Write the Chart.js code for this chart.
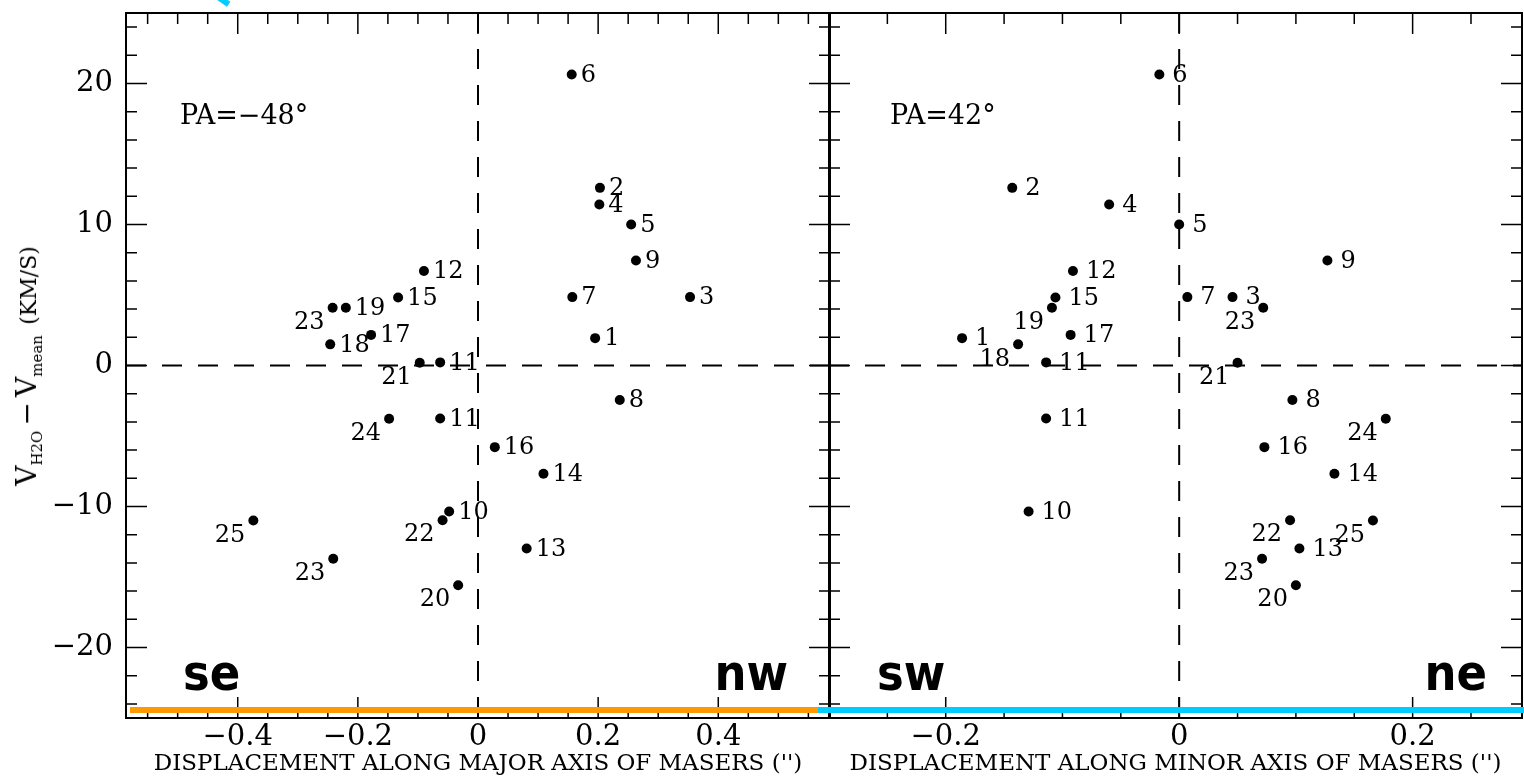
<!DOCTYPE html>
<html>
<head>
<meta charset="utf-8">
<script src="https://cdn.jsdelivr.net/npm/chart.js@4.4.1/dist/chart.umd.min.js"></script>
<style>
  body { margin: 0; background: #fff; }
  #wrap { position: relative; width: 1524px; height: 781px; overflow: hidden; }
  canvas { position: absolute; top: 0; }
  #left { left: 0; }
  #right { left: 820px; }
  .bar { position: absolute; top: 707px; height: 6px; }
  #cyanTick { position: absolute; left: 215px; top: -3px; width: 15px; height: 6px; background: #00ccff; transform: rotate(35deg); }
  #ytitle {
    position: absolute; left: 29px; top: 366px;
    transform: translate(-50%, -50%) rotate(-90deg);
    white-space: nowrap; font-family: "DejaVu Serif", serif; color: #000; line-height: 1;
  }
  #ytitle .big { font-size: 28px; }
  #ytitle sub { font-size: 15px; vertical-align: -6px; }
  #ytitle .unit { font-size: 22px; }
</style>
</head>
<body>
<div id="wrap">
  <canvas id="left" width="840" height="781"></canvas>
  <canvas id="right" width="704" height="781"></canvas>
  <div class="bar" style="left:130px;width:688px;background:#ff9900"></div>
  <div class="bar" style="left:818px;width:706px;background:#00ccff"></div>
  <div id="cyanTick"></div>
  <div id="ytitle"><span class="big">V</span><sub>H2O</sub> <span class="big">&minus;</span> <span class="big">V</span><sub>mean</sub>&nbsp;&nbsp;<span class="unit">(KM/S)</span></div>
</div>
<script>
// maser spots (11 and 23 appear twice)
const maserIds = ['1','2','3','4','5','6','7','8','9','10','11','11','12','13','14','15','16','17','18','19','20','21','22','23','23','24','25'];
const velocity = [1.94, 12.6, 4.85, 11.42, 10.0, 20.64, 4.85, -2.45, 7.45, -10.35, 0.22, -3.76, 6.7, -12.98, -7.68, 4.82, -5.79, 2.17, 1.5, 4.09, -15.58, 0.2, -10.97, 4.09, -13.71, -3.78, -10.99];
const majorOffset = [0.195, 0.203, 0.353, 0.202, 0.255, 0.156, 0.157, 0.236, 0.263, -0.048, -0.063, -0.063, -0.090, 0.081, 0.109, -0.133, 0.028, -0.178, -0.246, -0.220, -0.033, -0.097, -0.059, -0.242, -0.241, -0.148, -0.374];
const minorOffset = [-0.186, -0.143, 0.0457, -0.060, 0.0, -0.017, 0.007, 0.097, 0.127, -0.129, -0.114, -0.114, -0.091, 0.103, 0.133, -0.106, 0.073, -0.093, -0.138, -0.109, 0.100, 0.050, 0.095, 0.072, 0.071, 0.177, 0.166];

const majorTicks = [-0.4, -0.2, 0, 0.2, 0.4];
const minorTicks = [-0.2, 0, 0.2];
const velocityTicks = [20, 10, 0, -10, -20];

// where each number sits: 'r' right of the dot, 'bl' below-left
const majorSides = ['r','r','r','r','r','r','r','r','r','r','r','r','r','r','r','r','r','r','r','r','bl','bl','bl','bl','bl','bl','bl'];
const minorSides = ['r','r','r','r','r','r','r','r','r','r','r','r','r','r','r','r','r','r','bl','bl','bl','bl','bl','bl','bl','bl','bl'];

const serif = '"DejaVu Serif", serif';
const minus = v => String(v).replace('-', '\u2212');

const framePlugin = {
  id: 'frame',
  afterDatasetsDraw(chart, args, opts) {
    const { ctx, chartArea: a, scales: { x, y } } = chart;
    ctx.save();
    ctx.strokeStyle = '#000';
    ctx.lineWidth = 1.5;
    ctx.beginPath();
    for (let k = Math.ceil(x.min / 0.05 - 1e-6); k * 0.05 <= x.max + 1e-9; k++) {
      const v = k * 0.05, px = x.getPixelForValue(v);
      const len = Math.abs(v / 0.2 - Math.round(v / 0.2)) < 1e-6 ? 21 : 11;
      ctx.moveTo(px, a.top); ctx.lineTo(px, a.top + len);
      ctx.moveTo(px, a.bottom); ctx.lineTo(px, a.bottom - len);
    }
    for (let v = -24; v <= 24; v += 2) {
      const py = y.getPixelForValue(v);
      const len = v % 10 === 0 ? 21 : 11;
      ctx.moveTo(a.left, py); ctx.lineTo(a.left + len, py);
      ctx.moveTo(a.right, py); ctx.lineTo(a.right - len, py);
    }
    ctx.stroke();
    ctx.lineWidth = 2;
    ctx.strokeRect(a.left, a.top, a.right - a.left, a.bottom - a.top);

    // maser numbers
    const meta = chart.getDatasetMeta(0);
    ctx.fillStyle = '#000';
    ctx.font = '24px ' + serif;
    ctx.textBaseline = 'middle';
    meta.data.forEach((pt, i) => {
      if (opts.sides[i] === 'r') {
        ctx.textAlign = 'left';
        ctx.fillText(maserIds[i], pt.x + opts.gap, pt.y + 1);
      } else {
        ctx.textAlign = 'right';
        ctx.fillText(maserIds[i], pt.x - 8, pt.y + 15);
      }
    });

    // position angle and compass words
    ctx.textBaseline = 'alphabetic';
    ctx.textAlign = 'left';
    ctx.font = '27px ' + serif;
    ctx.fillText(opts.pa, a.left + opts.paX, a.top + 111);
    ctx.font = 'bold 50px "DejaVu Sans Condensed", "DejaVu Sans", sans-serif';
    ctx.fillText(opts.dirL, a.left + opts.dirLX, a.bottom - 28);
    ctx.textAlign = 'right';
    ctx.fillText(opts.dirR, a.right - opts.dirRX, a.bottom - 28);
    ctx.restore();
  }
};

function panel(id, offsets, ticks, xmin, xmax, title, pad, showY, frameOpts) {
  const dash = { borderColor: '#000', borderWidth: 2, borderDash: [20, 16], pointRadius: 0, showLine: true, fill: false };
  return new Chart(document.getElementById(id), {
    type: 'scatter',
    data: {
      datasets: [
        { data: offsets.map((v, i) => ({ x: v, y: velocity[i] })), pointRadius: 5, pointBackgroundColor: '#000', pointBorderWidth: 0 },
        Object.assign({ data: [{ x: 0, y: 25 }, { x: 0, y: -25 }] }, dash),
        Object.assign({ data: [{ x: xmin, y: 0 }, { x: xmax, y: 0 }] }, dash)
      ]
    },
    options: {
      responsive: false,
      animation: false,
      layout: { padding: pad, autoPadding: false },
      plugins: { legend: { display: false }, tooltip: { enabled: false }, frame: frameOpts },
      scales: {
        x: {
          type: 'linear', min: xmin, max: xmax,
          grid: { display: false, drawTicks: false },
          border: { display: false },
          afterBuildTicks: s => { s.ticks = ticks.map(v => ({ value: v })); },
          afterFit: s => { s.height = 63; s.paddingLeft = 0; s.paddingRight = 0; },
          ticks: { callback: v => minus(v), color: '#000', font: { family: serif, size: 29 }, padding: 2, maxRotation: 0, autoSkip: false },
          title: { display: true, text: title, color: '#000', font: { family: serif, size: 23 }, padding: { top: 0, bottom: 3 } }
        },
        y: {
          type: 'linear', min: -25, max: 25, display: showY,
          grid: { display: false, drawTicks: false },
          border: { display: false },
          afterBuildTicks: s => { s.ticks = velocityTicks.map(v => ({ value: v })); },
          afterFit: s => { s.width = showY ? 126 : 0; s.paddingTop = 0; s.paddingBottom = 0; },
          ticks: { callback: v => minus(v), color: '#000', font: { family: serif, size: 29 }, padding: 13 }
        }
      }
    },
    plugins: [framePlugin]
  });
}

panel('left', majorOffset, majorTicks, -0.586, 0.586,
  "DISPLACEMENT ALONG MAJOR AXIS OF MASERS ('')",
  { top: 13, right: 10, left: 0, bottom: 0 }, true,
  { sides: majorSides, gap: 9, pa: 'PA=\u221248\u00b0', paX: 54, dirL: 'se', dirLX: 57, dirR: 'nw', dirRX: 42 });

panel('right', minorOffset, minorTicks, -0.3, 0.2937,
  "DISPLACEMENT ALONG MINOR AXIS OF MASERS ('')",
  { top: 13, right: 2, left: 9, bottom: 0 }, false,
  { sides: minorSides, gap: 13, pa: 'PA=42\u00b0', paX: 61, dirL: 'sw', dirLX: 48, dirR: 'ne', dirRX: 35 });
</script>
</body>
</html>
